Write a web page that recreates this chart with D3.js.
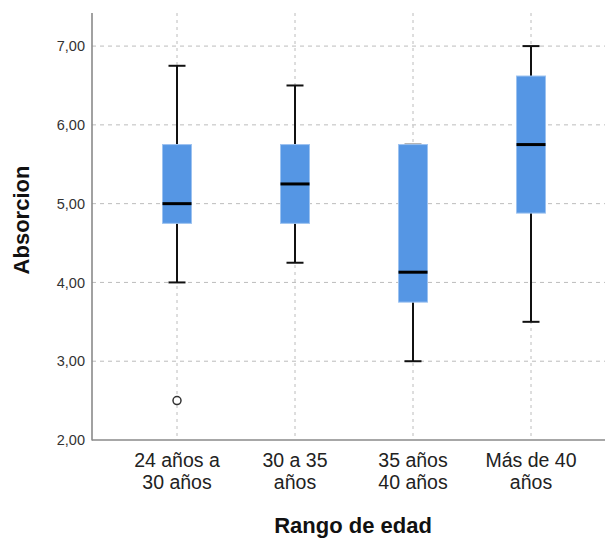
<!DOCTYPE html>
<html>
<head>
<meta charset="utf-8">
<script src="https://cdn.jsdelivr.net/npm/d3@7"></script>
<style>
  html, body { margin: 0; padding: 0; background: #fff; }
  svg { display: block; font-family: "Liberation Sans", Arial, sans-serif; }
</style>
</head>
<body>
<svg id="chart" width="605" height="538"></svg>
<script>
// ---- data ----
const categories = [["24 años a", "30 años"], ["30 a 35", "años"], ["35 años", "40 años"], ["Más de 40", "años"]];
const whiskerLow  = [4.00, 4.25, 3.00, 3.50];
const q1          = [4.75, 4.75, 3.75, 4.88];
const medians     = [5.00, 5.25, 4.13, 5.75];
const q3          = [5.75, 5.75, 5.75, 6.62];
const whiskerHigh = [6.75, 6.50, 5.75, 7.00];
const outliers    = [[2.50], [], [], []];
const yTicks      = [2, 3, 4, 5, 6, 7];
const yTitle = "Absorcion";
const xTitle = "Rango de edad";

(function () {
// ---- layout ----
const svg = d3.select("#chart");
const mLeft = 92, mTop = 13, mBottom = 440, mRight = 605;
const keys = categories.map((c, i) => i);

const x = d3.scalePoint().domain(keys).range([177, 531]);
const y = d3.scaleLinear().domain([2, 7.42]).range([mBottom, mTop]);

const boxW = 29, capW = 17;
const gridColor = "#bcbcbc";

// horizontal grid
svg.append("g").selectAll("line").data(yTicks.filter(t => t > 2)).join("line")
  .attr("x1", mLeft).attr("x2", mRight)
  .attr("y1", d => y(d)).attr("y2", d => y(d))
  .attr("stroke", gridColor).attr("stroke-width", 1).attr("stroke-dasharray", "4,4");

// vertical grid
svg.append("g").selectAll("line").data(keys).join("line")
  .attr("x1", d => x(d)).attr("x2", d => x(d))
  .attr("y1", mTop).attr("y2", mBottom)
  .attr("stroke", gridColor).attr("stroke-width", 1).attr("stroke-dasharray", "3,4");

// y axis
const yAxis = d3.axisLeft(y).tickValues(yTicks).tickSize(0).tickPadding(7)
  .tickFormat(d => d3.format(".2f")(d).replace(".", ","));
const gy = svg.append("g").attr("transform", `translate(${mLeft},0)`).call(yAxis);
gy.select(".domain").remove();
gy.selectAll("text").attr("font-size", 14.5).attr("fill", "#333")
  .attr("font-family", '"Liberation Sans", Arial, sans-serif');

// x axis (labels)
const gx = svg.append("g").attr("transform", `translate(0,${mBottom})`)
  .call(d3.axisBottom(x).tickSize(0).tickFormat(""));
gx.select(".domain").remove();
const xlg = svg.append("g");
keys.forEach(k => {
  categories[k].forEach((line, j) => {
    xlg.append("text").attr("x", x(k)).attr("y", 467 + j * 22)
      .attr("text-anchor", "middle").attr("font-size", 19.5).attr("fill", "#222")
      .text(line);
  });
});

// axis lines
svg.append("line").attr("x1", mLeft).attr("x2", mLeft).attr("y1", mTop).attr("y2", mBottom + 0.5)
  .attr("stroke", "#8a8a8a").attr("stroke-width", 1.6);
svg.append("line").attr("x1", mLeft).attr("x2", mRight).attr("y1", mBottom).attr("y2", mBottom)
  .attr("stroke", "#8a8a8a").attr("stroke-width", 1.6);

// boxes
const g = svg.append("g");
keys.forEach(i => {
  const cx = x(i);
  g.append("line").attr("x1", cx).attr("x2", cx).attr("y1", y(whiskerHigh[i])).attr("y2", y(q3[i]))
    .attr("stroke", "#111").attr("stroke-width", 2);
  g.append("line").attr("x1", cx).attr("x2", cx).attr("y1", y(q1[i])).attr("y2", y(whiskerLow[i]))
    .attr("stroke", "#111").attr("stroke-width", 2);
  g.append("line").attr("x1", cx - capW / 2).attr("x2", cx + capW / 2)
    .attr("y1", y(whiskerHigh[i])).attr("y2", y(whiskerHigh[i]))
    .attr("stroke", whiskerHigh[i] === q3[i] ? "#555" : "#111").attr("stroke-width", 2);
  g.append("line").attr("x1", cx - capW / 2).attr("x2", cx + capW / 2)
    .attr("y1", y(whiskerLow[i])).attr("y2", y(whiskerLow[i]))
    .attr("stroke", "#111").attr("stroke-width", 2);
  g.append("rect").attr("x", cx - boxW / 2).attr("width", boxW)
    .attr("y", y(q3[i])).attr("height", y(q1[i]) - y(q3[i]))
    .attr("fill", "#5596e4").attr("stroke", "#9cc2f0").attr("stroke-width", 1);
  g.append("line").attr("x1", cx - boxW / 2).attr("x2", cx + boxW / 2)
    .attr("y1", y(medians[i])).attr("y2", y(medians[i]))
    .attr("stroke", "#000").attr("stroke-width", 3);
  outliers[i].forEach(v => {
    g.append("circle").attr("cx", cx).attr("cy", y(v)).attr("r", 4)
      .attr("fill", "#fff").attr("stroke", "#333").attr("stroke-width", 1.5);
  });
});

// titles
svg.append("text").attr("transform", `translate(29,220) rotate(-90)`)
  .attr("text-anchor", "middle").attr("font-size", 22).attr("font-weight", "bold").attr("fill", "#111")
  .text(yTitle);
svg.append("text").attr("x", 353).attr("y", 533)
  .attr("text-anchor", "middle").attr("font-size", 22).attr("font-weight", "bold").attr("fill", "#111")
  .text(xTitle);
})();
</script>
</body>
</html>
